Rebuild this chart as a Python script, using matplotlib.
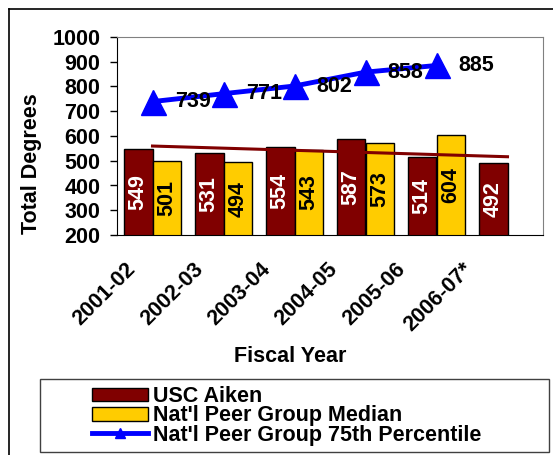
import numpy as np
import matplotlib.pyplot as plt
from matplotlib.lines import Line2D
from matplotlib.patches import Patch, Rectangle
from matplotlib.transforms import ScaledTranslation

plt.rcParams['font.family'] = ['Liberation Sans', 'DejaVu Sans']
plt.rcParams['font.weight'] = 'bold'

# degrees awarded per fiscal year
years = ['2001-02', '2002-03', '2003-04', '2004-05', '2005-06', '2006-07*']
usc_aiken = [549, 531, 554, 587, 514, 492]
peer_median = [501, 494, 543, 573, 604, np.nan]
peer_75th = [739, 771, 802, 858, 885]

maroon = '#800000'
gold = '#FFCC00'
blue = '#0000FF'
fs = 15.5

W, H = 553, 455
fig = plt.figure(figsize=(W / 100, H / 100), dpi=100)
ax = fig.add_axes([117 / W, 1 - 235 / H, (543 - 117) / W, (235 - 37) / H])

x = np.arange(len(years))
bw = 0.4
ax.bar(x - bw / 2, usc_aiken, bw, color=maroon, edgecolor='black', linewidth=1, zorder=2)
ax.bar(x + bw / 2, peer_median, bw, color=gold, edgecolor='black', linewidth=1, zorder=2)

# values written inside the bars
for xi, v in zip(x, usc_aiken):
    ax.text(xi - bw / 2, (200 + v) / 2, str(v), rotation=90, ha='center', va='center',
            color='white', fontsize=fs, fontweight='bold', zorder=5)
for xi, v in zip(x, peer_median):
    if not np.isnan(v):
        ax.text(xi + bw / 2, (200 + v) / 2, str(int(v)), rotation=90, ha='center', va='center',
                color='black', fontsize=fs, fontweight='bold', zorder=5)

# linear trend of USC Aiken
k, b = np.polyfit(x, usc_aiken, 1)
ax.plot(x, k * x + b, color=maroon, linewidth=2.2, zorder=3)

# 75th percentile line
xl = x[:len(peer_75th)]
ax.plot(xl, peer_75th, color=blue, linewidth=3.5, marker='^', markersize=18, zorder=4)
for xi, v in zip(xl, peer_75th):
    ax.annotate(str(v), (xi, v), xytext=(16, 0), textcoords='offset points',
                ha='left', va='center', fontsize=fs, fontweight='bold', zorder=6)

ax.set_xlim(-0.5, len(years) - 0.5)
ax.set_ylim(200, 1000)
ax.set_yticks(range(200, 1001, 100))
ax.tick_params(axis='y', direction='out', length=5, width=1, pad=7, labelsize=fs)
# category labels sit a little tighter than the bars
ax.set_xticks(x * 0.95)
ax.set_xticklabels(years, rotation=45, ha='right', va='center', rotation_mode='anchor', fontsize=fs)
ax.tick_params(axis='x', length=0, pad=0)
shift = ScaledTranslation(-0.20, -0.31, fig.dpi_scale_trans)
for lab in ax.get_xticklabels():
    lab.set_transform(lab.get_transform() + shift)

for s in ['top', 'right']:
    ax.spines[s].set_color('#808080')
for s in ['left', 'bottom']:
    ax.spines[s].set_color('black')

fig.text(32 / W, 1 - 164 / H, 'Total Degrees', rotation=90, ha='center', va='center',
         fontsize=fs, fontweight='bold')
fig.text(290 / W, 1 - 356 / H, 'Fiscal Year', ha='center', va='center',
         fontsize=fs, fontweight='bold')

# outer chart border
fig.add_artist(Line2D([9 / W, 9 / W], [0, 1 - 9 / H], color='black', linewidth=1.2))
fig.add_artist(Line2D([9 / W, 1], [1 - 9 / H, 1 - 9 / H], color='black', linewidth=1.2))

# legend box
fig.add_artist(Rectangle((40 / W, 1 - 452 / H), (549 - 40) / W, (452 - 379) / H,
                         transform=fig.transFigure, fill=False, edgecolor='#404040', linewidth=1))
handles = [
    Patch(facecolor=maroon, edgecolor='black', linewidth=1),
    Patch(facecolor=gold, edgecolor='black', linewidth=1),
    Line2D([], [], color=blue, linewidth=3.5, marker='^', markersize=7),
]
labels = ['USC Aiken', "Nat'l Peer Group Median", "Nat'l Peer Group 75th Percentile"]
fig.legend(handles, labels, loc='upper left', bbox_to_anchor=(92 / W, 1 - 386 / H),
           frameon=False, borderpad=0, borderaxespad=0, labelspacing=-0.08,
           handlelength=2.6, handleheight=0.6, handletextpad=0.22,
           prop={'size': fs, 'weight': 'bold'})

fig.savefig('out.png', dpi=100)
